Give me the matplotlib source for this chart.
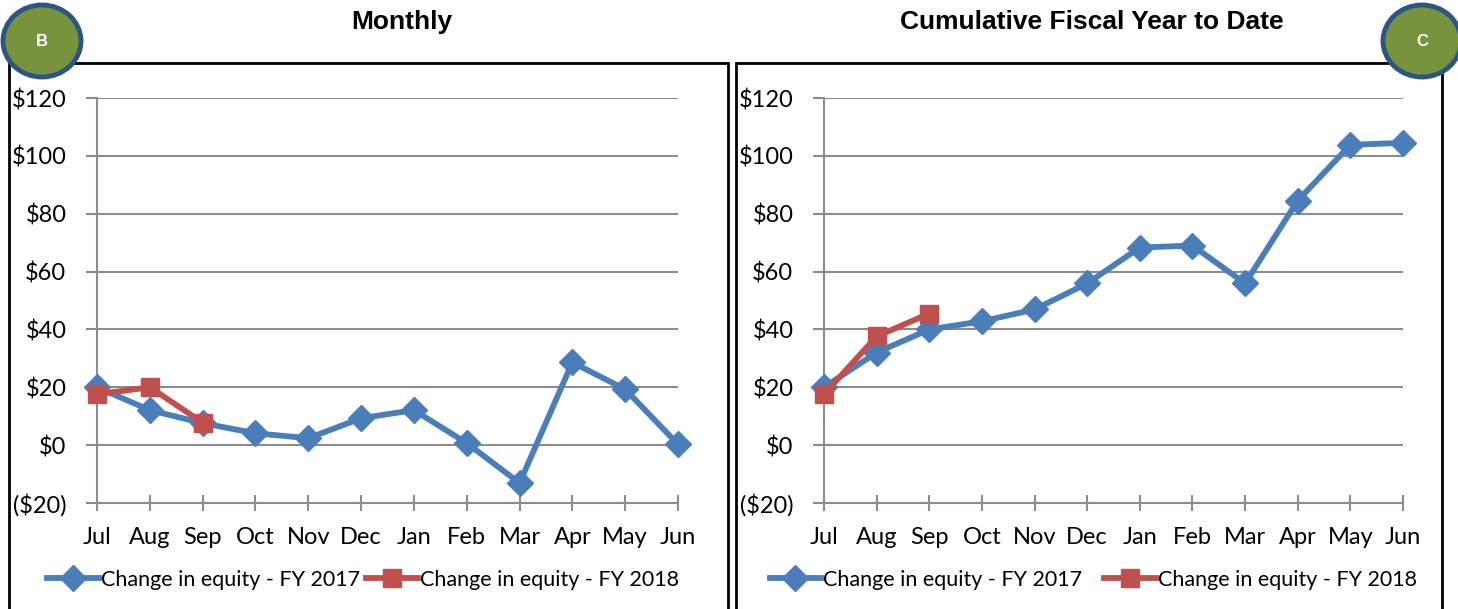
import matplotlib
matplotlib.use("Agg")
import matplotlib.pyplot as plt
from matplotlib.patches import Ellipse, Rectangle

# data ($ millions)
months = ["Jul", "Aug", "Sep", "Oct", "Nov", "Dec", "Jan", "Feb", "Mar", "Apr", "May", "Jun"]
monthly_fy17 = [20.0, 12.1, 7.6, 4.1, 2.4, 9.3, 12.1, 0.7, -13.1, 28.6, 19.3, 0.3]
monthly_fy18 = [17.6, 20.0, 7.8]
cumul_fy17 = [20.0, 32.0, 40.0, 42.8, 46.9, 55.9, 68.3, 69.0, 55.9, 84.5, 103.8, 104.5]
cumul_fy18 = [17.6, 37.6, 45.5]
yticks = [-20, 0, 20, 40, 60, 80, 100, 120]
ytick_labels = ["($20)", "$0", "$20", "$40", "$60", "$80", "$100", "$120"]
label17 = "Change in equity - FY 2017"
label18 = "Change in equity - FY 2018"

BLUE = "#4a7ebb"
RED = "#c0504d"
GRID = "#8c8c8c"
FONT = "Lato"

W, H = 1458, 609
fig = plt.figure(figsize=(W / 100, H / 100), dpi=100)


def px(x0, y0, w, h):
    # pixel box (top-left origin) -> figure fraction rect
    return [x0 / W, (H - y0 - h) / H, w / W, h / H]


def panel(rect, fy17, fy18, leg_x, colspace):
    ax = fig.add_axes(rect)
    x = list(range(len(months)))
    ax.plot(x, fy17, color=BLUE, lw=4.2, marker="D", ms=13, label=label17,
            zorder=3, clip_on=False)
    ax.plot(x[:len(fy18)], fy18, color=RED, lw=4.2, marker="s", ms=13, label=label18,
            zorder=4, clip_on=False)
    ax.set_xlim(0, 11)
    ax.set_ylim(-20, 120)
    ax.set_yticks(yticks)
    ax.set_yticklabels(ytick_labels, fontsize=17, family=FONT)
    ax.set_xticks(x)
    ax.set_xticklabels(months, fontsize=17, family=FONT)
    ax.grid(axis="y", color=GRID, lw=1.5)
    ax.set_axisbelow(True)
    for s in ("top", "right"):
        ax.spines[s].set_visible(False)
    for s in ("left", "bottom"):
        ax.spines[s].set_color(GRID)
        ax.spines[s].set_linewidth(1.5)
    ax.tick_params(axis="y", direction="out", length=8, width=1.5, color=GRID, pad=14)
    ax.tick_params(axis="x", direction="inout", length=12, width=1.5, color=GRID, pad=11)
    ax.legend(loc="center", bbox_to_anchor=(leg_x, -0.19), ncol=2, frameon=False,
              prop={"family": FONT, "size": 15.5}, handlelength=2.4,
              handletextpad=0.1, columnspacing=colspace)
    return ax


panel(px(97, 98, 581, 405), monthly_fy17, monthly_fy18, 0.458, 0.3)
panel(px(824, 98, 579, 405), cumul_fy17, cumul_fy18, 0.465, 1.0)

# panel frames (open at the bottom, like the cropped source)
for x0, x1 in ((9, 728), (736, 1442)):
    fig.add_artist(Rectangle((x0 / W, -0.05), (x1 - x0) / W, (H - 63) / H + 0.05,
                             transform=fig.transFigure, fill=False, ec="black", lw=2))

fig.text(402 / W, 1 - 22 / H, "Monthly", ha="center", va="center",
         fontsize=19, fontweight="bold", family="Liberation Sans")
fig.text(1092 / W, 1 - 22 / H, "Cumulative Fiscal Year to Date", ha="center", va="center",
         fontsize=19, fontweight="bold", family="Liberation Sans")

# badge circles
for cx, letter in ((42, "B"), (1422, "C")):
    fig.add_artist(Ellipse((cx / W, 1 - 41 / H), 78 / W, 72 / H, transform=fig.transFigure,
                           fc="#77933c", ec="#2c5586", lw=3.5, zorder=10))
    fig.text(cx / W, 1 - 41 / H, letter, ha="center", va="center", color="white",
             fontsize=12, fontweight="bold", family="Liberation Sans", zorder=11)

fig.savefig("out.png", dpi=100)
